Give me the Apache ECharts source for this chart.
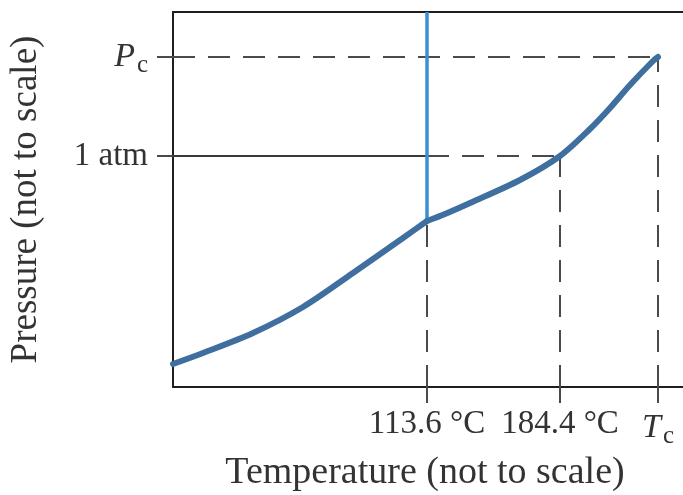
<!DOCTYPE html>
<html>
<head>
<meta charset="utf-8">
<script src="https://cdn.jsdelivr.net/npm/echarts@6/dist/echarts.min.js"></script>
<style>
  html, body { margin: 0; padding: 0; background: #fff; }
  #main { width: 683px; height: 495px; }
</style>
</head>
<body>
<div id="main"></div>
<script>
// not-to-scale units
const xTickVals = [50.8, 77.4, 97];
const xTickLabels = ['113.6 °C', '184.4 °C', '{i|T}{s|c}'];
const yTickVals = [46.2, 66];
const yTickLabels = ['1 atm', '{i|P}{s|c}'];

// sublimation curve, up to the triple point
const subX = [0, 6, 16, 26, 36, 46, 50.8];
const subY = [4.6, 6.8, 10.8, 16, 22.8, 29.8, 33.2];
// vapour pressure curve, triple point -> critical point
const vapX = [50.8, 54.4, 59.4, 69.4, 77.4, 83.4, 87.4, 91.4, 96, 97];
const vapY = [33.2, 34.6, 36.8, 41.4, 46.2, 51.6, 55.8, 60.4, 65.2, 66];

const triplePt = [50.8, 33.2];
const boilPt = [77.4, 46.2];
const critPt = [97, 66];
const yTop = 75;

const font = 'Liberation Serif';
const ink = '#333';
const frame = '#1e1e1e';
const dashColor = '#4a4a4a';
const curveColor = '#3f6f9f';

const chart = echarts.init(document.getElementById('main'), null, { renderer: 'canvas' });

const richTxt = {
  i: { fontFamily: font, fontStyle: 'italic', fontSize: 34, color: ink },
  s: { fontFamily: font, fontSize: 25, color: ink, padding: [16, 0, 0, 2] }
};

function dashed(data) {
  return {
    type: 'line', data: data, symbol: 'none', silent: true,
    lineStyle: { color: dashColor, width: 2, type: [22, 13] },
    z: 1
  };
}

function curve(xs, ys) {
  return {
    type: 'line', smooth: 0.3, symbol: 'none', silent: true,
    data: xs.map(function (x, i) { return [x, ys[i]]; }),
    lineStyle: { color: curveColor, width: 6, cap: 'round' }, z: 4
  };
}

const option = {
  animation: false,
  backgroundColor: '#fff',
  grid: {
    left: 173, top: 12, width: 530, height: 375,
    outerBoundsMode: 'none', containLabel: false
  },
  xAxis: [{
    type: 'value', min: 0, max: 106,
    splitLine: { show: false },
    axisLine: { show: true, lineStyle: { color: frame, width: 2 } },
    axisTick: { show: true, inside: false, length: 16, customValues: xTickVals, lineStyle: { color: dashColor, width: 2 } },
    axisLabel: {
      customValues: xTickVals, margin: 21,
      fontFamily: font, fontSize: 33, color: ink,
      formatter: function (v) { return xTickLabels[xTickVals.indexOf(v)]; },
      rich: richTxt
    },
    name: 'Temperature (not to scale)',
    nameLocation: 'middle', nameGap: 66,
    nameTextStyle: { fontFamily: font, fontSize: 38, color: ink, padding: [0, 26, 0, 0] }
  }, {
    // top edge of the frame
    type: 'value', position: 'top', min: 0, max: 106,
    splitLine: { show: false }, axisTick: { show: false }, axisLabel: { show: false },
    axisLine: { show: true, lineStyle: { color: frame, width: 2 } }
  }],
  yAxis: {
    type: 'value', min: 0, max: yTop,
    splitLine: { show: false },
    axisLine: { show: true, lineStyle: { color: frame, width: 2 } },
    axisTick: { show: true, inside: false, length: 16, customValues: yTickVals, lineStyle: { color: dashColor, width: 2 } },
    axisLabel: {
      customValues: yTickVals, margin: 25,
      fontFamily: font, fontSize: 33, color: ink,
      formatter: function (v) { return yTickLabels[yTickVals.indexOf(v)]; },
      rich: richTxt
    },
    name: 'Pressure (not to scale)',
    nameLocation: 'middle', nameGap: 128, nameRotate: 90,
    nameTextStyle: { fontFamily: font, fontSize: 37, color: ink }
  },
  series: [
    // 1 atm: solid up to the melting line, dashed after it
    {
      type: 'line', data: [[0, boilPt[1]], [triplePt[0], boilPt[1]]], symbol: 'none', silent: true,
      lineStyle: { color: '#3a3a3a', width: 2 }, z: 1
    },
    dashed([[triplePt[0], boilPt[1]], boilPt]),
    dashed([[0, critPt[1]], critPt]),
    dashed([[triplePt[0], 0], triplePt]),
    dashed([[boilPt[0], 0], boilPt]),
    dashed([[critPt[0], 0], critPt]),
    // melting line
    {
      type: 'line', data: [triplePt, [triplePt[0], yTop]], symbol: 'none', silent: true,
      lineStyle: { color: '#3b8fd4', width: 3.5 }, z: 3
    },
    curve(subX, subY),
    curve(vapX, vapY)
  ]
};

chart.setOption(option);
</script>
</body>
</html>
